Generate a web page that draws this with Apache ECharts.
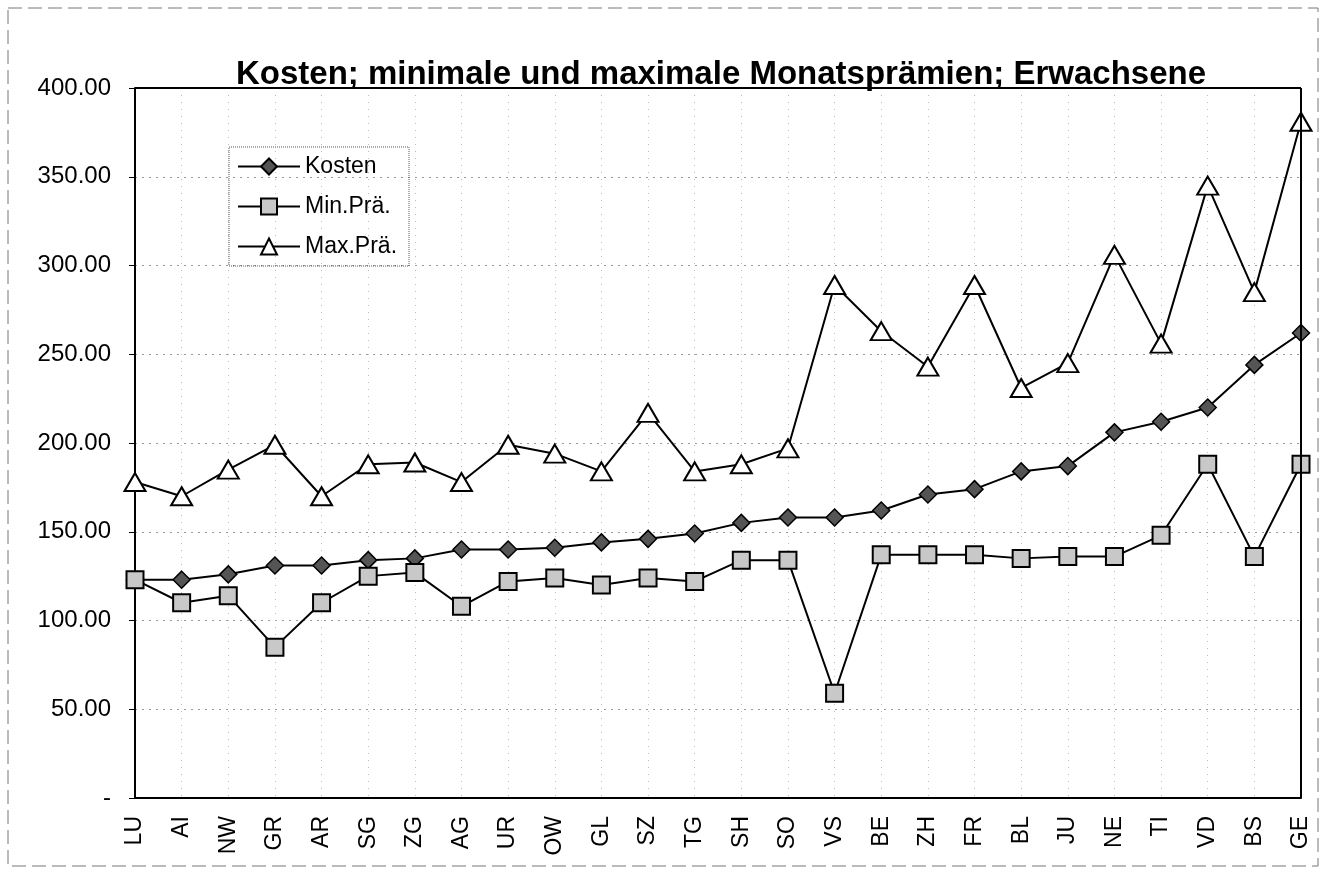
<!DOCTYPE html>
<html>
<head>
<meta charset="utf-8">
<script src="https://cdn.jsdelivr.net/npm/echarts@6/dist/echarts.min.js"></script>
<style>
  html, body { margin: 0; padding: 0; background: #fff; }
  #chart { width: 1325px; height: 870px; }
</style>
</head>
<body>
<div id="chart"></div>
<script>
let kantone = ["LU","AI","NW","GR","AR","SG","ZG","AG","UR","OW","GL","SZ","TG","SH","SO","VS","BE","ZH","FR","BL","JU","NE","TI","VD","BS","GE"]
let kosten = [123,123,126,131,131,134,135,140,140,141,144,146,149,155,158,158,162,171,174,184,187,206,212,220,244,262]
let minPraemie = [123,110,114,85,110,125,127,108,122,124,120,124,122,134,134,59,137,137,137,135,136,136,148,188,136,188]
let maxPraemie = [178,170,185,199,170,188,189,178,199,194,184,217,184,188,197,289,263,243,289,231,245,306,256,345,285,381]

let myChart = echarts.init(document.getElementById("chart"))

let font = "Liberation Sans, Arial, sans-serif"

let option = {
    animation: false,
    title: {
        text: "Kosten; minimale und maximale Monatsprämien; Erwachsene",
        left: 716,
        top: 53,
        textAlign: "center",
        textStyle: { fontFamily: font, fontSize: 33, fontWeight: "bold", color: "#000" }
    },
    legend: {
        orient: "vertical",
        left: 229,
        top: 147,
        itemWidth: 62,
        itemHeight: 20,
        itemGap: 17,
        padding: [8, 12, 8, 8],
        borderColor: "#555",
        borderWidth: 1,
        borderType: "dotted",
        textStyle: { fontFamily: font, fontSize: 23, color: "#000", padding: [0, 0, 0, 0] },
        data: ["Kosten", "Min.Prä.", "Max.Prä."]
    },
    grid: { left: 135, right: 24, top: 88, bottom: 72 },
    xAxis: {
        type: "category",
        data: kantone,
        boundaryGap: false,
        axisLine: { lineStyle: { color: "#000", width: 2 } },
        axisTick: { show: false },
        axisLabel: { rotate: 90, fontFamily: font, fontSize: 23, color: "#000", margin: 18 },
        splitLine: { show: true, lineStyle: { color: "#bbb", type: [1, 6], width: 1 } }
    },
    yAxis: {
        type: "value",
        min: 0,
        max: 400,
        interval: 50,
        axisLine: { show: true, lineStyle: { color: "#000", width: 2 } },
        axisTick: { show: true, length: 6, lineStyle: { color: "#000" } },
        axisLabel: {
            fontFamily: font, fontSize: 24, color: "#000", margin: 24,
            formatter: function (v) { return v === 0 ? "-" : v.toFixed(2) }
        },
        splitLine: { show: true, lineStyle: { color: "#999", type: [2, 5], width: 1 } }
    },
    series: [
        {
            name: "Kosten",
            type: "line",
            data: kosten,
            symbol: "diamond",
            symbolSize: 17,
            lineStyle: { color: "#000", width: 2 },
            itemStyle: { color: "#555", borderColor: "#000", borderWidth: 1.5 }
        },
        {
            name: "Min.Prä.",
            type: "line",
            data: minPraemie,
            symbol: "rect",
            symbolSize: 17,
            lineStyle: { color: "#000", width: 2 },
            itemStyle: { color: "#c8c8c8", borderColor: "#000", borderWidth: 2 }
        },
        {
            name: "Max.Prä.",
            type: "line",
            data: maxPraemie,
            symbol: "triangle",
            symbolSize: [21, 18],
            lineStyle: { color: "#000", width: 2 },
            itemStyle: { color: "#fff", borderColor: "#000", borderWidth: 2 }
        }
    ],
    graphic: [
        {
            type: "rect",
            z: 100,
            shape: { x: 8, y: 8, width: 1310, height: 858 },
            style: { fill: "none", stroke: "#777", lineWidth: 1, lineDash: [14, 6] },
            silent: true
        },
        {
            type: "line",
            z: 100,
            shape: { x1: 1301, y1: 88, x2: 1301, y2: 798 },
            style: { stroke: "#000", lineWidth: 2 },
            silent: true
        },
        {
            type: "line",
            z: 100,
            shape: { x1: 135, y1: 88, x2: 1301, y2: 88 },
            style: { stroke: "#000", lineWidth: 2 },
            silent: true
        }
    ]
}

myChart.setOption(option)
</script>
</body>
</html>
